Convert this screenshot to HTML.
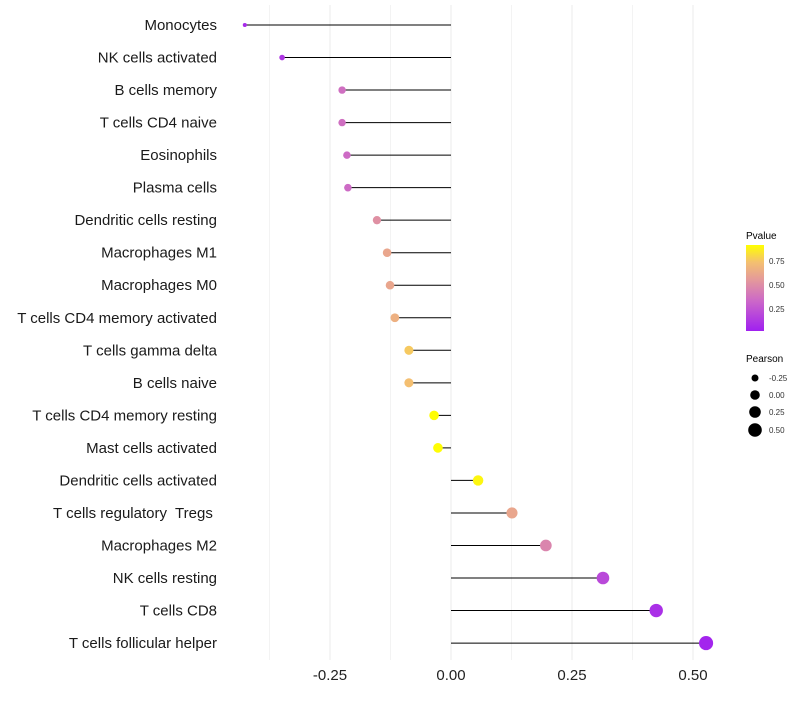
<!DOCTYPE html>
<html><head><meta charset="utf-8"><style>
body{margin:0;background:#fff;font-family:"Liberation Sans",sans-serif}
text{white-space:pre}
</style></head><body>
<svg id="c" width="800" height="700" xmlns="http://www.w3.org/2000/svg" font-family="Liberation Sans, sans-serif">
<defs><linearGradient id="g" x1="0" y1="1" x2="0" y2="0">
<stop offset="0" stop-color="#a020f0"/><stop offset="0.35" stop-color="#cc68c8"/><stop offset="0.6" stop-color="#e49a9a"/><stop offset="0.8" stop-color="#f4c070"/><stop offset="1" stop-color="#ffff00"/>
</linearGradient></defs>
<g id="grid"></g><g id="marks"></g><g id="labels"></g>
<g>
<text x="746" y="239" font-size="10" fill="#000">Pvalue</text>
<rect x="746" y="245" width="18" height="86" fill="url(#g)"/>
<text x="769" y="264" font-size="8" fill="#333">0.75</text>
<text x="769" y="288" font-size="8" fill="#333">0.50</text>
<text x="769" y="312" font-size="8" fill="#333">0.25</text>
</g>
<g>
<text x="746" y="362" font-size="10" fill="#000">Pearson</text>
<circle cx="755" cy="378" r="3.5"/><text x="769" y="381" font-size="8" fill="#333">-0.25</text>
<circle cx="755" cy="395" r="4.8"/><text x="769" y="398" font-size="8" fill="#333">0.00</text>
<circle cx="755" cy="412" r="5.8"/><text x="769" y="415" font-size="8" fill="#333">0.25</text>
<circle cx="755" cy="430" r="6.8"/><text x="769" y="433" font-size="8" fill="#333">0.50</text>
</g>
</svg>
<script>
const categories=["Monocytes","NK cells activated","B cells memory","T cells CD4 naive","Eosinophils","Plasma cells","Dendritic cells resting","Macrophages M1","Macrophages M0","T cells CD4 memory activated","T cells gamma delta","B cells naive","T cells CD4 memory resting","Mast cells activated","Dendritic cells activated","T cells regulatory  Tregs ","Macrophages M2","NK cells resting","T cells CD8","T cells follicular helper"];
const pearson=[-0.426,-0.349,-0.225,-0.225,-0.215,-0.213,-0.153,-0.132,-0.126,-0.116,-0.087,-0.087,-0.035,-0.027,0.056,0.126,0.196,0.314,0.424,0.527];
const pvalue=[0.05,0.1,0.35,0.35,0.33,0.33,0.5,0.6,0.6,0.65,0.75,0.72,0.9,0.9,0.88,0.6,0.45,0.18,0.07,0.02];
const xTicks=[-0.25,0,0.25,0.5];
const xTickLabels=["-0.25","0.00","0.25","0.50"];
const NS="http://www.w3.org/2000/svg";
const x=v=>451+v*484;
const y=i=>25+i*32.53;
const rad=v=>Math.sqrt(4+(v+0.43)/0.96*46);
const stops=[[0,[160,32,240]],[0.35,[204,104,200]],[0.6,[228,154,154]],[0.8,[244,192,112]],[1,[255,255,0]]];
function col(p){let t=Math.max(0,Math.min(1,p/0.906));for(let k=1;k<stops.length;k++){if(t<=stops[k][0]){const a=stops[k-1],b=stops[k];const f=(t-a[0])/(b[0]-a[0]);return"rgb("+a[1].map((c,j)=>Math.round(c+(b[1][j]-c)*f)).join(",")+")";}}return"rgb(255,255,0)";}
function mk(tag,at,parent){const e=document.createElementNS(NS,tag);for(const k in at)e.setAttribute(k,at[k]);parent.appendChild(e);return e;}
const grid=document.getElementById('grid'),marks=document.getElementById('marks'),labels=document.getElementById('labels');
[-0.375,-0.125,0.125,0.375].forEach(v=>{const l=mk('line',{x1:x(v),x2:x(v),y1:5,y2:660,stroke:'#f3f3f3','stroke-width':1},grid);});
xTicks.forEach((v,i)=>{const l=mk('line',{x1:x(v),x2:x(v),y1:5,y2:660,stroke:'#ebebeb','stroke-width':1},grid);
const t=mk('text',{x:x(v),y:680,'text-anchor':'middle','font-size':15,fill:'#222'},labels);t.textContent=xTickLabels[i];});
categories.forEach((c,i)=>{const t=mk('text',{x:217,y:y(i)+5,'text-anchor':'end','font-size':15,fill:'#1a1a1a'},labels);t.textContent=c;
const l=mk('line',{x1:x(0),x2:x(pearson[i]),y1:y(i),y2:y(i),stroke:'#000','stroke-width':1},marks);
const p=mk('circle',{cx:x(pearson[i]),cy:y(i),r:rad(pearson[i]),fill:col(pvalue[i])},marks);});
</script>
</body></html>
